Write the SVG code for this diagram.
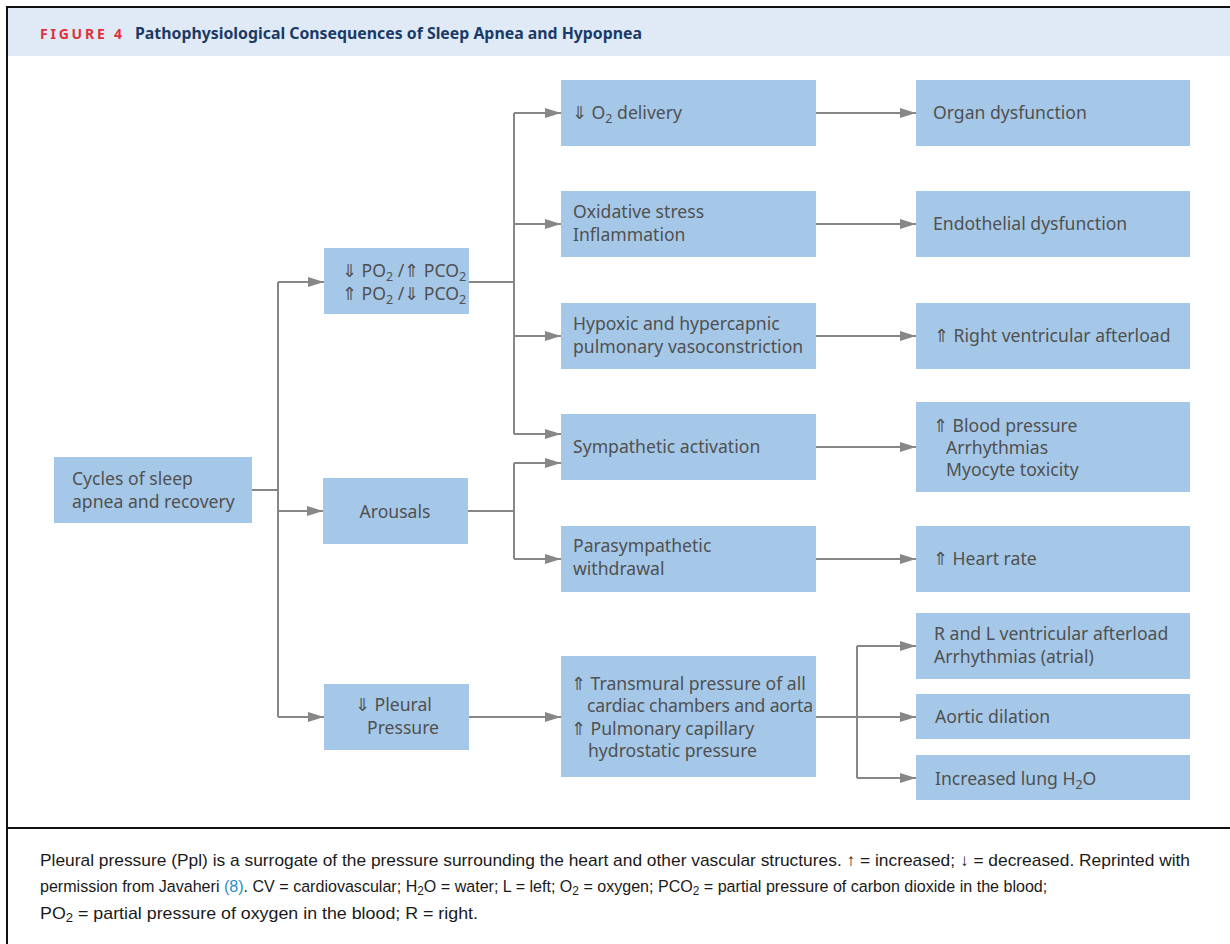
<svg xmlns="http://www.w3.org/2000/svg" width="1230" height="944" viewBox="0 0 1230 944">
<defs>
<marker id="ah" markerWidth="16" markerHeight="10" refX="16" refY="5" orient="auto" markerUnits="userSpaceOnUse">
<path d="M0,0 L16,5 L0,10 z" fill="#878787"/>
</marker>
<style>
.box{fill:#a5c8e8;}
.t{font-family:"Noto Sans","Open Sans",sans-serif;font-size:17.6px;fill:#505050;}
.c{text-anchor:middle;}
.sub{font-size:12.5px;}
.con{fill:none;stroke:#878787;stroke-width:2;}
.cap{font-family:"Liberation Sans",Arial,sans-serif;font-size:17px;fill:#1a1a1a;}
</style>
</defs>
<rect x="0" y="0" width="1230" height="944" fill="#fff"/>
<rect x="8" y="8" width="1230" height="48" fill="#dfeaf6"/>
<rect x="7" y="7" width="1240" height="960" fill="none" stroke="#111" stroke-width="2"/>
<line x1="7" y1="828" x2="1230" y2="828" stroke="#111" stroke-width="2"/>
<g id="title">
<text x="40" y="39" font-family="'Noto Sans',sans-serif" font-weight="bold" font-size="14" fill="#e03039" textLength="82" lengthAdjust="spacing">FIGURE 4</text>
<text x="135" y="39" font-family="'Noto Sans',sans-serif" font-weight="bold" font-size="16" fill="#1b3a66" textLength="507" lengthAdjust="spacingAndGlyphs">Pathophysiological Consequences of Sleep Apnea and Hypopnea</text>
</g>

<g id="connectors">
<path class="con" d="M252,490 H278 M278,282 V717"/>
<path class="con" marker-end="url(#ah)" d="M278,282 H324"/>
<path class="con" marker-end="url(#ah)" d="M278,511 H323"/>
<path class="con" marker-end="url(#ah)" d="M278,717 H324"/>
<path class="con" d="M469,282 H514 M514,113 V434"/>
<path class="con" marker-end="url(#ah)" d="M514,113 H561"/>
<path class="con" marker-end="url(#ah)" d="M514,224 H561"/>
<path class="con" marker-end="url(#ah)" d="M514,336 H561"/>
<path class="con" marker-end="url(#ah)" d="M514,434 H561"/>
<path class="con" d="M468,511 H514 M514,463 V559"/>
<path class="con" marker-end="url(#ah)" d="M514,463 H561"/>
<path class="con" marker-end="url(#ah)" d="M514,559 H561"/>
<path class="con" marker-end="url(#ah)" d="M469,717 H561"/>
<path class="con" marker-end="url(#ah)" d="M816,113 H916"/>
<path class="con" marker-end="url(#ah)" d="M816,224 H916"/>
<path class="con" marker-end="url(#ah)" d="M816,336 H916"/>
<path class="con" marker-end="url(#ah)" d="M816,447 H916"/>
<path class="con" marker-end="url(#ah)" d="M816,559 H916"/>
<path class="con" marker-end="url(#ah)" d="M816,717 H916"/>
<path class="con" d="M857,646 V778"/>
<path class="con" marker-end="url(#ah)" d="M857,646 H916"/>
<path class="con" marker-end="url(#ah)" d="M857,778 H916"/>
</g>

<g id="n-cycles"><rect class="box" x="54" y="457" width="198" height="66"/>
<text class="t" x="72" y="485">Cycles of sleep</text><text class="t" x="72" y="508">apnea and recovery</text></g>

<g id="n-po2"><rect class="box" x="324" y="248" width="145" height="66"/>
<text class="t" x="342" y="277" font-size="17">⇓ PO<tspan class="sub" dy="4">2</tspan><tspan dy="-4"> /⇑ PCO</tspan><tspan class="sub" dy="4">2</tspan></text>
<text class="t" x="342" y="300" font-size="17">⇑ PO<tspan class="sub" dy="4">2</tspan><tspan dy="-4"> /⇓ PCO</tspan><tspan class="sub" dy="4">2</tspan></text></g>

<g id="n-arousals"><rect class="box" x="323" y="478" width="145" height="66"/>
<text class="t c" x="395" y="518">Arousals</text></g>

<g id="n-pleural"><rect class="box" x="324" y="684" width="145" height="66"/>
<text class="t" x="355" y="711">⇓ Pleural</text><text class="t" x="367" y="734">Pressure</text></g>

<g id="n-o2"><rect class="box" x="561" y="80" width="255" height="66"/>
<text class="t" x="572" y="119">⇓ O<tspan class="sub" dy="4">2</tspan><tspan dy="-4"> delivery</tspan></text></g>

<g id="n-oxid"><rect class="box" x="561" y="191" width="255" height="66"/>
<text class="t" x="573" y="218">Oxidative stress</text><text class="t" x="573" y="241">Inflammation</text></g>

<g id="n-hypoxic"><rect class="box" x="561" y="303" width="255" height="66"/>
<text class="t" x="573" y="330">Hypoxic and hypercapnic</text><text class="t" x="573" y="353">pulmonary vasoconstriction</text></g>

<g id="n-symp"><rect class="box" x="561" y="414" width="255" height="66"/>
<text class="t" x="573" y="453">Sympathetic activation</text></g>

<g id="n-parasymp"><rect class="box" x="561" y="526" width="255" height="66"/>
<text class="t" x="573" y="552">Parasympathetic</text><text class="t" x="573" y="575">withdrawal</text></g>

<g id="n-transmural"><rect class="box" x="561" y="656" width="255" height="121"/>
<text class="t" x="571" y="690">⇑ Transmural pressure of all</text>
<text class="t" x="587" y="712" textLength="226">cardiac chambers and aorta</text>
<text class="t" x="571" y="735">⇑ Pulmonary capillary</text>
<text class="t" x="588" y="757">hydrostatic pressure</text></g>

<g id="n-organ"><rect class="box" x="916" y="80" width="274" height="66"/>
<text class="t" x="933" y="119">Organ dysfunction</text></g>

<g id="n-endo"><rect class="box" x="916" y="191" width="274" height="66"/>
<text class="t" x="933" y="230">Endothelial dysfunction</text></g>

<g id="n-rv"><rect class="box" x="916" y="303" width="274" height="66"/>
<text class="t" x="934" y="342">⇑ Right ventricular afterload</text></g>

<g id="n-bp"><rect class="box" x="916" y="402" width="274" height="90"/>
<text class="t" x="933" y="432">⇑ Blood pressure</text>
<text class="t" x="946" y="454">Arrhythmias</text>
<text class="t" x="946" y="476">Myocyte toxicity</text></g>

<g id="n-hr"><rect class="box" x="916" y="526" width="274" height="66"/>
<text class="t" x="933" y="565">⇑ Heart rate</text></g>

<g id="n-rl"><rect class="box" x="916" y="613" width="274" height="66"/>
<text class="t" x="934" y="640">R and L ventricular afterload</text>
<text class="t" x="934" y="663">Arrhythmias (atrial)</text></g>

<g id="n-aortic"><rect class="box" x="916" y="694" width="274" height="45"/>
<text class="t" x="935" y="723">Aortic dilation</text></g>

<g id="n-lung"><rect class="box" x="916" y="755" width="274" height="45"/>
<text class="t" x="935" y="785">Increased lung H<tspan class="sub" dy="4">2</tspan><tspan dy="-4">O</tspan></text></g>

<g id="caption">
<text class="cap" x="40" y="866" textLength="1150" lengthAdjust="spacingAndGlyphs">Pleural pressure (Ppl) is a surrogate of the pressure surrounding the heart and other vascular structures. ↑ = increased; ↓ = decreased. Reprinted with</text>
<text class="cap" x="40" y="892" transform="matrix(0.946,0,0,1,2.16,0)">permission from Javaheri <tspan fill="#2a8fc4">(8)</tspan>. CV = cardiovascular; H<tspan font-size="12.5" dy="3">2</tspan><tspan dy="-3">O = water; L = left; O</tspan><tspan font-size="12.5" dy="3">2</tspan><tspan dy="-3"> = oxygen; PCO</tspan><tspan font-size="12.5" dy="3">2</tspan><tspan dy="-3"> = partial pressure of carbon dioxide in the blood;</tspan></text>
<text class="cap" x="40" y="919" transform="matrix(1.048,0,0,1,-1.92,0)">PO<tspan font-size="12.5" dy="3">2</tspan><tspan dy="-3"> = partial pressure of oxygen in the blood; R = right.</tspan></text>
</g>
</svg>
